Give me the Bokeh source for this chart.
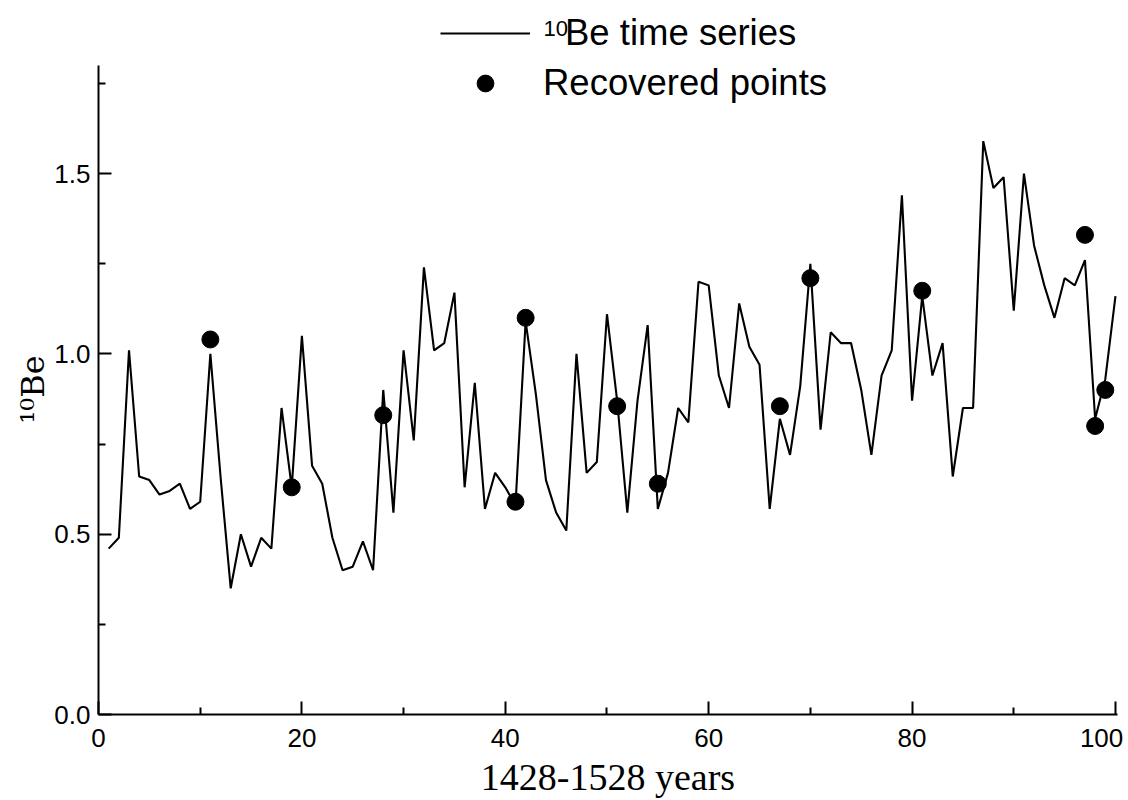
from bokeh.plotting import figure
from bokeh.models import Range1d, FixedTicker, NumeralTickFormatter, Legend, LegendItem, Label, Title
from bokeh.embed import file_html
from bokeh.resources import INLINE

# ---- data ----
years = list(range(1, 101))
be10 = [0.46, 0.49, 1.01, 0.66, 0.65, 0.61, 0.62, 0.64, 0.57, 0.59,
        1.00, 0.66, 0.35, 0.50, 0.41, 0.49, 0.46, 0.85, 0.63, 1.05,
        0.69, 0.64, 0.49, 0.40, 0.41, 0.48, 0.40, 0.90, 0.56, 1.01,
        0.76, 1.24, 1.01, 1.03, 1.17, 0.63, 0.92, 0.57, 0.67, 0.63,
        0.58, 1.09, 0.89, 0.65, 0.56, 0.51, 1.00, 0.67, 0.70, 1.11,
        0.87, 0.56, 0.87, 1.08, 0.57, 0.67, 0.85, 0.81, 1.20, 1.19,
        0.94, 0.85, 1.14, 1.02, 0.97, 0.57, 0.82, 0.72, 0.91, 1.25,
        0.79, 1.06, 1.03, 1.03, 0.90, 0.72, 0.94, 1.01, 1.44, 0.87,
        1.16, 0.94, 1.03, 0.66, 0.85, 0.85, 1.59, 1.46, 1.49, 1.12,
        1.50, 1.30, 1.19, 1.10, 1.21, 1.19, 1.26, 0.82, 0.93, 1.16]
rec_x = [11, 19, 28, 41, 42, 51, 55, 67, 70, 81, 97, 98, 99]
rec_y = [1.04, 0.63, 0.83, 0.59, 1.10, 0.855, 0.64, 0.855, 1.21, 1.175, 1.33, 0.80, 0.90]

x_ticks = [0, 20, 40, 60, 80, 100]
x_minor = [10, 30, 50, 70, 90]
y_ticks = [0.0, 0.5, 1.0, 1.5]
y_minor = [0.25, 0.75, 1.25, 1.75]
x_axis_end = 100.2
y_axis_end = 1.8

series_sup = "10"
series_label = "Be time series"
points_label = "Recovered points"
x_title = "1428-1528 years"
y_title = "\u00b9\u2070Be"

# the frame reaches the top of the canvas so that the legend (which sits
# partly above the axis' end) is not clipped; the axis itself stops at 1.8
p = figure(width=1128, height=800, output_backend="svg", toolbar_location=None,
           x_range=Range1d(0, x_axis_end), y_range=Range1d(0, 1.98),
           min_border_left=98, min_border_right=11, min_border_top=0, min_border_bottom=84)
p.outline_line_color = None
p.xgrid.visible = False
p.ygrid.visible = False
p.background_fill_color = "white"
p.border_fill_color = "white"

p.xaxis.ticker = FixedTicker(ticks=x_ticks, minor_ticks=x_minor)
p.yaxis.ticker = FixedTicker(ticks=y_ticks, minor_ticks=y_minor)
p.yaxis.formatter = NumeralTickFormatter(format="0.0")
p.yaxis.bounds = (0, y_axis_end)
p.xaxis.bounds = (0, x_axis_end)
p.xaxis.major_label_overrides = {100: "100\u2009"}

for ax in (p.xaxis[0], p.yaxis[0]):
    ax.axis_line_width = 2
    ax.axis_line_color = "black"
    ax.major_tick_in = 13
    ax.major_tick_out = 0
    ax.minor_tick_in = 7
    ax.minor_tick_out = 0
    ax.major_tick_line_width = 2
    ax.minor_tick_line_width = 2
    ax.major_tick_line_color = "black"
    ax.minor_tick_line_color = "black"
    ax.major_label_text_font = "Liberation Sans"
    ax.major_label_text_font_size = "26px"
    ax.major_label_text_color = "black"
p.xaxis.major_label_standoff = 8
p.yaxis.major_label_standoff = 8
p.xaxis.axis_label = x_title
p.xaxis.axis_label_text_font = "Liberation Serif"
p.xaxis.axis_label_text_font_style = "normal"
p.xaxis.axis_label_text_color = "black"
p.xaxis.axis_label_text_font_size = "38px"
p.xaxis.axis_label_standoff = 0

# y-axis title, placed along the axis (which stops below the frame top)
p.add_layout(Title(text=y_title, align="left", offset=291, standoff=0,
                   text_font="DejaVu Serif", text_font_size="32px",
                   text_font_style="normal", text_color="black"), "left")

ln = p.line(years, be10, line_color="black", line_width=2.1)
dots = p.scatter(rec_x, rec_y, size=17, color="black")

common = dict(orientation="vertical", glyph_width=90, glyph_height=42, label_height=42,
              padding=0, margin=0, border_line_color=None, background_fill_alpha=0,
              label_text_font="Liberation Sans", label_text_font_size="36.5px",
              label_text_color="black")
legend1 = Legend(items=[LegendItem(label=series_label, renderers=[ln])],
                 location=(342, 660), label_standoff=35, **common)
legend2 = Legend(items=[LegendItem(label=points_label, renderers=[dots])],
                 location=(342, 610), label_standoff=13, **common)
p.add_layout(legend1)
p.add_layout(legend2)
p.add_layout(Label(x=445, y=686, x_units="screen", y_units="screen", text=series_sup,
                   text_font="Liberation Sans", text_font_size="22px", text_color="black",
                   text_align="left", text_baseline="alphabetic"))

open("out.html", "w").write(file_html(p, INLINE))
